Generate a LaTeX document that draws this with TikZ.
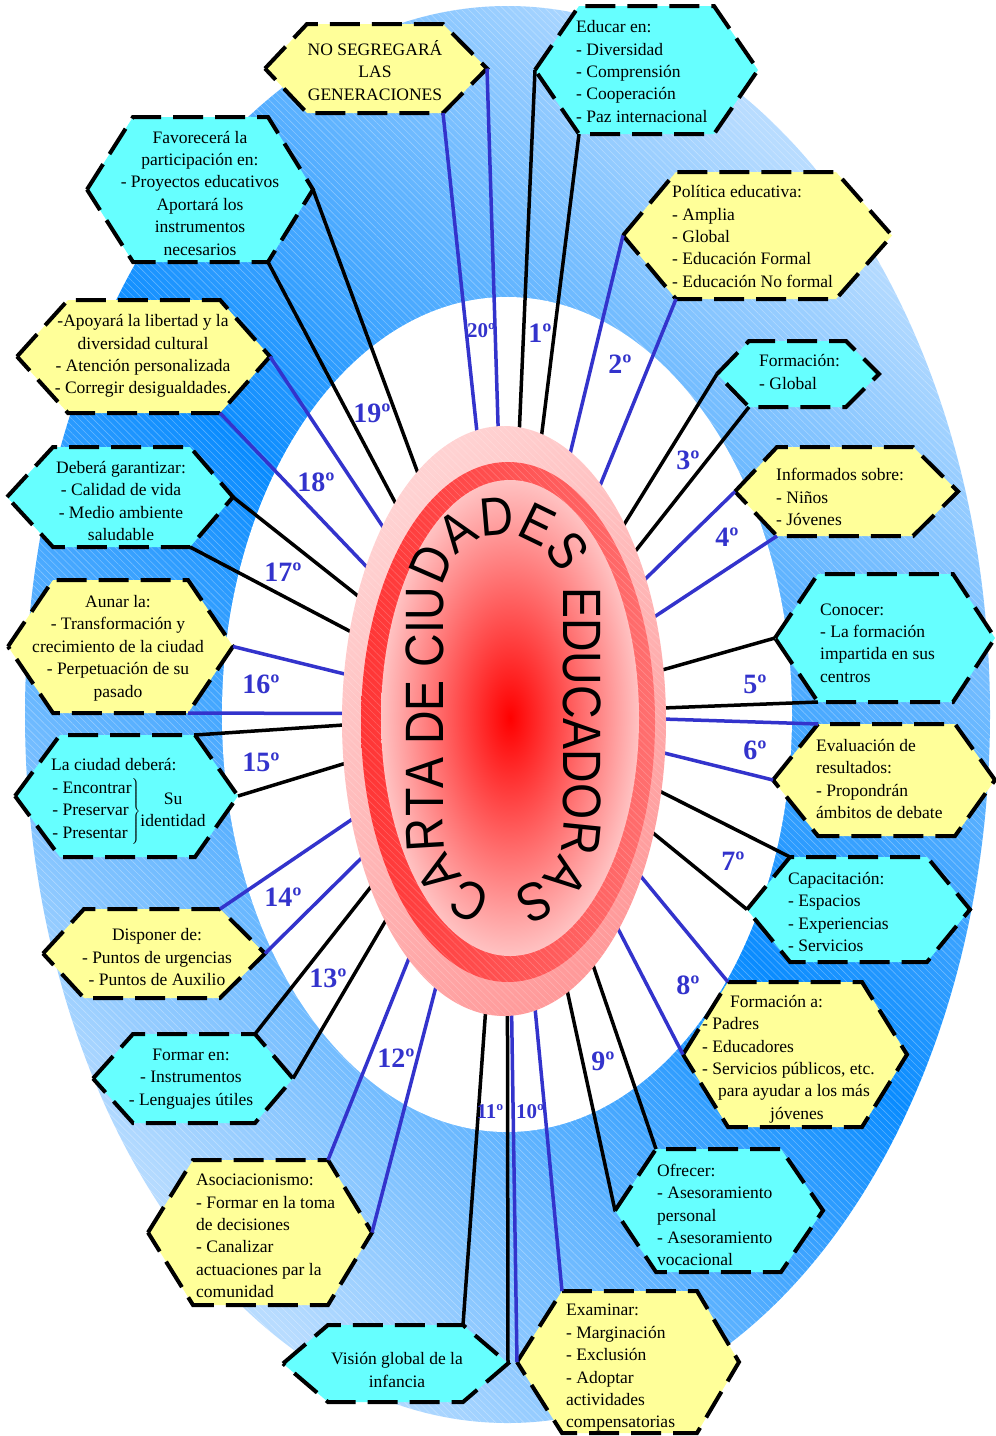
\documentclass[tikz,border=0pt]{standalone}
\usepackage{fontspec}
\setmainfont{Liberation Serif}
\newfontfamily\arcfont[FakeStretch=0.86]{Liberation Sans}
\usetikzlibrary{decorations.text,patterns.meta}
\definecolor{hcyan}{HTML}{66FFFF}
\definecolor{hyellow}{HTML}{FFFF99}
\definecolor{nblue}{HTML}{3333CC}
\definecolor{bgdark}{HTML}{0A8CFF}
\definecolor{bglight}{HTML}{B8DCFF}
\definecolor{pinkA}{HTML}{FFD2D2}
\definecolor{pinkB}{HTML}{FF9A9A}
\definecolor{redA}{HTML}{FF3535}
\definecolor{redB}{HTML}{FF7070}
\definecolor{coreout}{HTML}{FFC2C2}
\newcommand\hexa[8]{%
  \coordinate (#1-l) at (#2,{(#6+#7)/2});%
  \coordinate (#1-tl) at (#3,#6);%
  \coordinate (#1-tr) at (#4,#6);%
  \coordinate (#1-r) at (#5,{(#6+#7)/2});%
  \coordinate (#1-br) at (#4,#7);%
  \coordinate (#1-bl) at (#3,#7);%
  \path[hexbox,fill=#8] (#1-l) -- (#1-tl) -- (#1-tr) -- (#1-r) -- (#1-br) -- (#1-bl) -- cycle;%
}
\newcommand\spk[3]{\draw[#1] (#2) -- (ctr); \draw[#1] (#3) -- (ctr);}
\tikzset{
  hexbox/.style={draw=black, line width=4pt, dash pattern=on 30pt off 12pt, line join=miter},
  spokek/.style={draw=black, line width=3.5pt},
  spokeb/.style={draw=nblue, line width=3.5pt},
  htext/.style={font=\fontsize{17.5}{22.4}\selectfont, inner sep=0pt, text=black},
  num/.style={font=\bfseries\fontsize{28}{28}\selectfont, text=nblue, inner sep=0pt},
  numsm/.style={font=\bfseries\fontsize{21}{21}\selectfont, text=nblue, inner sep=0pt},
  hatch/.style={pattern={Lines[angle=-45,distance=5pt,line width=0.6pt]}, pattern color=white, opacity=0.3}
}
\begin{document}
\begin{tikzpicture}[x=1pt,y=-1pt]
\useasboundingbox (0,0) rectangle (996,1436);
\fill[white] (0,0) rectangle (996,1436);
% background rings
\shade[top color=bglight, bottom color=bglight, middle color=bgdark, shading angle=-45]
  (507.5,714.5) ellipse[x radius=482.5pt, y radius=708.5pt];
\path[hatch] (507.5,714.5) ellipse[x radius=482.5pt, y radius=708.5pt];
\fill[white] (507,714.5) ellipse[x radius=285pt, y radius=417.5pt];
\coordinate (ctr) at (507,714);
% hexagons
\hexa{h1}{265}{307}{443}{487}{24}{113}{hyellow}
\hexa{h2}{87}{133}{268}{313}{117}{262}{hcyan}
\hexa{h3}{17}{68}{220}{270}{300}{413}{hyellow}
\hexa{h4}{535}{579}{714}{758}{6}{134}{hcyan}
\hexa{h5}{623}{676}{836}{892}{172}{299}{hyellow}
\hexa{h6}{717}{749}{846}{879}{341}{407}{hcyan}
\hexa{h7}{7}{53}{190}{233}{447}{547}{hcyan}
\hexa{h8}{8}{53}{188}{233}{580}{713}{hyellow}
\hexa{h9}{15}{60}{195}{238}{735}{857}{hcyan}
\hexa{h10}{43}{84}{220}{265}{909}{998}{hyellow}
\hexa{h11}{93}{133}{255}{293}{1034}{1123}{hcyan}
\hexa{h12}{735}{777}{913}{958}{447}{536}{hyellow}
\hexa{h13}{775}{818}{953}{995}{574}{702}{hcyan}
\hexa{h14}{773}{818}{955}{995}{724}{836}{hyellow}
\hexa{h15}{747}{790}{927}{970}{857}{962}{hcyan}
\hexa{h16}{683}{728}{862}{907}{982}{1127}{hyellow}
\hexa{h17}{615}{656}{781}{823}{1149}{1272}{hcyan}
\hexa{h18}{517}{562}{697}{739}{1291}{1433}{hyellow}
\hexa{h19}{148}{193}{328}{372}{1160}{1305}{hyellow}
\hexa{h20}{283}{328}{463}{508}{1325}{1402}{hcyan}
% spokes
\spk{spokek}{h4-l}{h4-bl}
\spk{spokeb}{h5-l}{h5-bl}
\spk{spokek}{h6-l}{h6-bl}
\spk{spokeb}{h12-l}{h12-bl}
\spk{spokek}{h13-l}{h13-bl}
\spk{spokeb}{h14-tl}{h14-l}
\spk{spokek}{h15-tl}{h15-l}
\spk{spokeb}{h16-tl}{h16-l}
\spk{spokek}{h17-tl}{h17-l}
\spk{spokeb}{h18-tl}{h18-l}
\spk{spokek}{h20-tr}{h20-r}
\spk{spokeb}{h19-tr}{h19-r}
\spk{spokek}{h11-tr}{h11-r}
\spk{spokeb}{h10-tr}{h10-r}
\spk{spokek}{h9-tr}{h9-r}
\spk{spokeb}{h8-r}{h8-br}
\spk{spokek}{h7-r}{h7-br}
\spk{spokeb}{h3-r}{h3-br}
\spk{spokek}{h2-r}{h2-br}
\spk{spokeb}{h1-r}{h1-br}
% numbers
\node[num] (n1) at (540,333) {1º};
\node[num] (n2) at (620,364) {2º};
\node[num] (n3) at (688,460) {3º};
\node[num] (n4) at (727,537) {4º};
\node[num] (n5) at (755,684) {5º};
\node[num] (n6) at (755,750) {6º};
\node[num] (n7) at (733,861) {7º};
\node[num] (n8) at (688,985) {8º};
\node[num] (n9) at (603,1061) {9º};
\node[numsm] (n10) at (530,1112) {10º};
\node[numsm] (n11) at (490,1112) {11º};
\node[num] (n12) at (396,1058) {12º};
\node[num] (n13) at (328,978) {13º};
\node[num] (n14) at (283,897) {14º};
\node[num] (n15) at (261,762) {15º};
\node[num] (n16) at (261,684) {16º};
\node[num] (n17) at (283,572) {17º};
\node[num] (n18) at (316,482) {18º};
\node[num] (n19) at (372,413) {19º};
\node[numsm] (n20) at (481,331) {20º};
% central ellipse
\shade[top color=pinkA, bottom color=pinkB, shading angle=45]
  (504,721) ellipse[x radius=162pt, y radius=295pt];
\shade[left color=redA, right color=redB]
  (508,722) ellipse[x radius=147pt, y radius=260pt];
\path[hatch, opacity=0.2] (504,721) ellipse[x radius=162pt, y radius=295pt];
\shade[inner color=red, outer color=coreout]
  (510,718) ellipse[x radius=129pt, y radius=238pt];
\begin{scope}[shift={(503,712.5)}, x=1pt, y=1pt]
\path[decorate, decoration={text along path, text align=center,
  text={|\arcfont\fontsize{54}{60}\selectfont|CARTA DE CIUDADES EDUCADORAS}}]
  (0,-177.5) arc[start angle=270, end angle=180, radius=60]
  -- (-60,117.5) arc[start angle=180, end angle=0, radius=60]
  -- (60,-117.5) arc[start angle=0, end angle=-90, radius=60];
\end{scope}
% texts
\node[htext, align=center] (t1) at (375,70.5) {NO SEGREGARÁ\\LAS\\GENERACIONES};
\node[htext, align=center] (t2) at (200,193) {Favorecerá la\\participación en:\\- Proyectos educativos\\Aportará los\\instrumentos\\necesarios};
\node[htext, align=center] (t3) at (143,356) {-Apoyará la libertad y la\\diversidad cultural\\- Atención personalizada\\- Corregir desigualdades.};
\node[htext, align=left, anchor=west] (t4) at (576,71.5) {Educar en:\\- Diversidad\\- Comprensión\\- Cooperación\\- Paz internacional};
\node[htext, align=left, anchor=west] (t5) at (672,236.5) {Política educativa:\\- Amplia\\- Global\\- Educación Formal\\- Educación No formal};
\node[htext, align=left, anchor=west] (t6) at (759,372) {Formación:\\- Global};
\node[htext, align=center] (t7) at (121,501) {Deberá garantizar:\\- Calidad de vida\\- Medio ambiente\\saludable};
\node[htext, align=center] (t8) at (118,648) {Aunar la:\\- Transformación y\\crecimiento de la ciudad\\- Perpetuación de su\\pasado};
\node[htext, anchor=west] (t9) at (51,800) {\begin{tabular}{@{}l@{}}La ciudad deberá:\\$\left.\begin{tabular}{@{}l@{}}- Encontrar\\- Preservar\\- Presentar\end{tabular}\right\}$\begin{tabular}{@{}c@{}}Su\\identidad\end{tabular}\end{tabular}};
\node[htext, align=center] (t10) at (157,957) {Disponer de:\\- Puntos de urgencias\\- Puntos de Auxilio};
\node[htext, align=center] (t11) at (191,1079) {Formar en:\\- Instrumentos\\- Lenguajes útiles};
\node[htext, align=left, anchor=west] (t12) at (776,497) {Informados sobre:\\- Niños\\- Jóvenes};
\node[htext, align=left, anchor=west] (t13) at (820,643) {Conocer:\\- La formación\\impartida en sus\\centros};
\node[htext, align=left, anchor=west] (t14) at (816,779) {Evaluación de\\resultados:\\- Propondrán\\ámbitos de debate};
\node[htext, align=left, anchor=west] (t15) at (788,912) {Capacitación:\\- Espacios\\- Experiencias\\- Servicios};
\node[htext, align=left, anchor=west] (t16) at (702,1059) {\hspace*{28pt}Formación a:\\- Padres\\- Educadores\\- Servicios públicos, etc.\\\hspace*{16pt}para ayudar a los más\\\hspace*{68pt}jóvenes};
\node[htext, align=left, anchor=west] (t17) at (657,1215) {Ofrecer:\\- Asesoramiento\\personal\\- Asesoramiento\\vocacional};
\node[htext, align=left, anchor=west] (t18) at (566,1368) {Examinar:\\- Marginación\\- Exclusión\\- Adoptar\\actividades\\compensatorias};
\node[htext, align=left, anchor=west] (t19) at (196,1236) {Asociacionismo:\\- Formar en la toma\\de decisiones\\- Canalizar\\actuaciones par la\\comunidad};
\node[htext, align=center] (t20) at (397,1370) {Visión global de la\\infancia};
\end{tikzpicture}
\end{document}
